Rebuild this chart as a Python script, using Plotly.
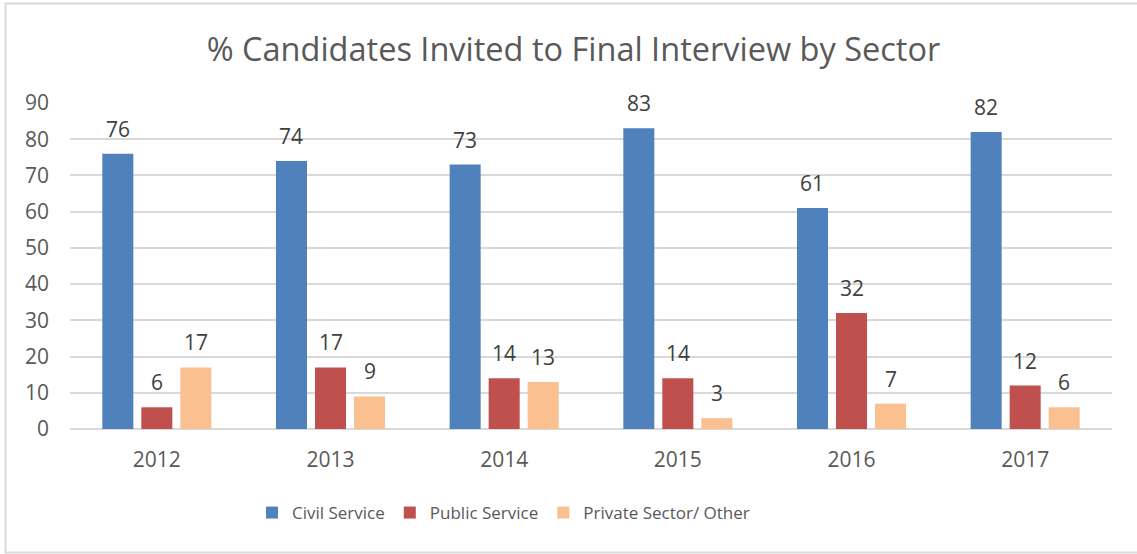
import plotly.graph_objects as go

# Share of candidates invited to final interview, by sector and year (%)
years = ["2012", "2013", "2014", "2015", "2016", "2017"]
civil_service = [76, 74, 73, 83, 61, 82]
public_service = [6, 17, 14, 14, 32, 12]
private_other = [17, 9, 13, 3, 7, 6]

series = [
    ("Civil Service", civil_service, "#4F81BD"),
    ("Public Service", public_service, "#C0504D"),
    ("Private Sector/ Other", private_other, "#FAC090"),
]

W, H = 1137, 554
L, R, T, B = 70, 25, 103, 125
plot_w = W - L - R
plot_h = H - T - B

FONT = "Open Sans"
GREY = "#595959"

fig = go.Figure()
for name, vals, color in series:
    fig.add_trace(go.Bar(
        name=name, x=years, y=vals,
        marker=dict(color=color, line=dict(width=0)),
        hoverinfo="x+y+name",
    ))

# value labels above each bar, offset horizontally to each bar's slot
bargap, bargroupgap = 0.326, 0.205
cat_px = plot_w / len(years)
slot_px = cat_px * (1 - bargap) / len(series)
annotations = []
for i, (name, vals, color) in enumerate(series):
    dx = (i - (len(series) - 1) / 2) * slot_px
    for k, v in enumerate(vals):
        annotations.append(dict(
            x=k, y=v, xref="x", yref="y", text=str(v), showarrow=False,
            xshift=dx, yshift=25, yanchor="middle",
            font=dict(family=FONT, size=21, color="#404040"),
        ))

def px_x(p):
    return (p - L) / plot_w

def px_y(p):
    return (H - B - p) / plot_h

fig.update_layout(
    width=W, height=H,
    margin=dict(l=L, r=R, t=T, b=B),
    paper_bgcolor="white", plot_bgcolor="white",
    barmode="group", bargap=bargap, bargroupgap=bargroupgap,
    title=dict(
        text="% Candidates Invited to Final Interview by Sector",
        x=573.5 / W, xref="container", xanchor="center",
        y=1 - 50 / H, yref="container", yanchor="middle",
        font=dict(family=FONT, size=32.5, color=GREY),
    ),
    font=dict(family=FONT, color=GREY),
    xaxis=dict(
        type="category", range=[-0.5, len(years) - 0.5],
        showgrid=False, showline=False, ticks="",
        tickfont=dict(family=FONT, size=21, color=GREY),
        ticklabelstandoff=16,
    ),
    yaxis=dict(
        range=[0, 90], dtick=10, tick0=0,
        showgrid=True, gridcolor="#D9D9D9", gridwidth=1.5,
        zeroline=True, zerolinecolor="#D9D9D9", zerolinewidth=1.5,
        showline=False, ticks="",
        tickfont=dict(family=FONT, size=21, color=GREY),
        ticklabelstandoff=20,
    ),
    legend=dict(
        orientation="h", x=px_x(252), xanchor="left",
        y=px_y(513), yanchor="middle",
        font=dict(family=FONT, size=17, color=GREY),
        traceorder="normal", itemwidth=30,
        bgcolor="rgba(0,0,0,0)",
    ),
    annotations=annotations,
    shapes=[dict(
        type="rect", xref="paper", yref="paper",
        x0=px_x(5.5), x1=px_x(W + 10), y0=px_y(552.5), y1=px_y(3.5),
        line=dict(color="#D9D9D9", width=2), fillcolor="rgba(0,0,0,0)",
        layer="below",
    )],
    showlegend=True,
)

fig.write_html("out.html")
